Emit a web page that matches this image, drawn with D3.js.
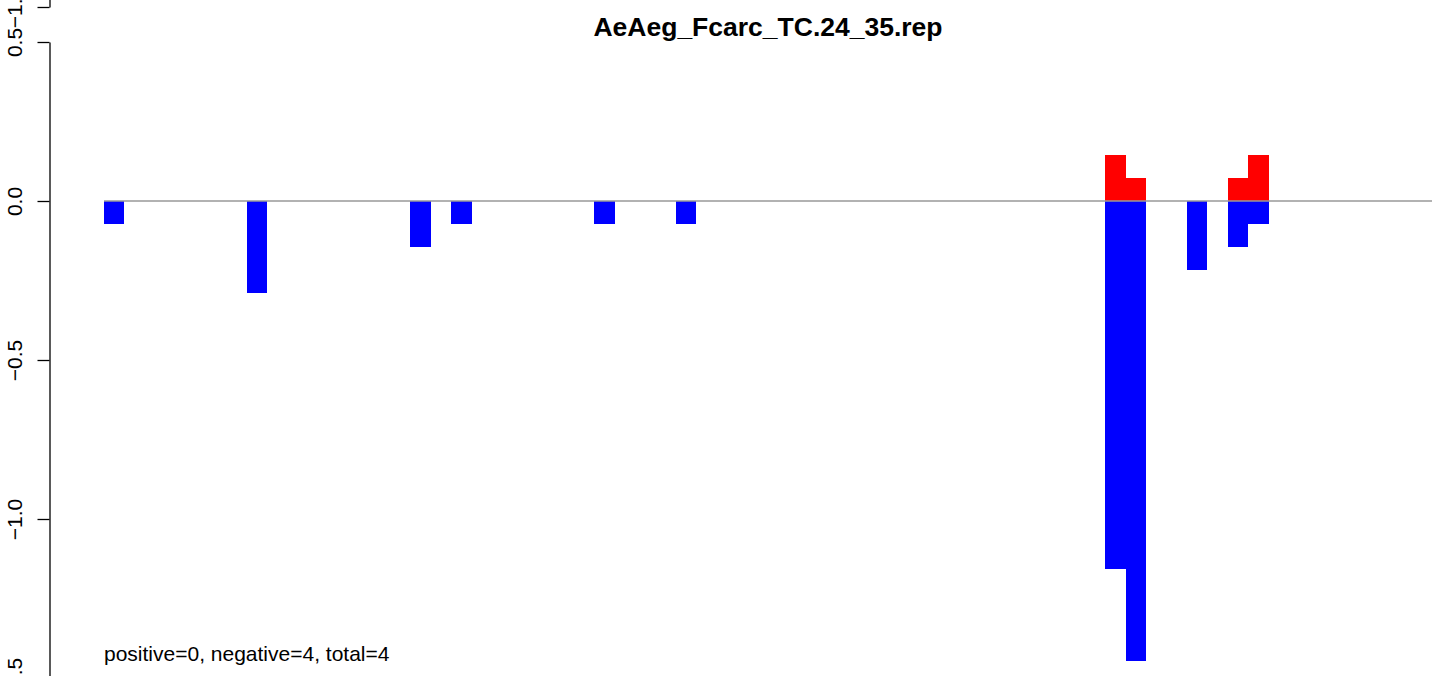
<!DOCTYPE html>
<html><head><meta charset="utf-8">
<script src="https://cdn.jsdelivr.net/npm/d3@7"></script>
<style>body{margin:0;background:#fff;} svg{display:block;} text{font-family:"Liberation Sans",Arial,sans-serif;}</style>
</head><body>
<script>
const title = "AeAeg_Fcarc_TC.24_35.rep";
const footer = "positive=0, negative=4, total=4";
const nSlots = 65;
const negSlots = [0, 7, 15, 17, 24, 28, 49, 50, 53, 55, 56];
const negValues = [-0.072, -0.289, -0.145, -0.072, -0.072, -0.072, -1.157, -1.447, -0.217, -0.145, -0.072];
const posSlots = [49, 50, 55, 56];
const posValues = [0.145, 0.072, 0.072, 0.145];
const yTicks = [0.5, 0.0, -0.5, -1.0, -1.5];

const W = 1444, H = 676;
const svg = d3.select("body").append("svg").attr("width", W).attr("height", H);

const x = d3.scaleLinear().domain([0, nSlots]).range([104, 1432]);
const y = d3.scaleLinear().domain([0.5, -1.5]).range([42, 678]);
const yPrev = d3.scaleLinear().domain([0.5, -1.5]).range([42 - 671, 7]);

const fmt = d3.format(".1f");
function styleAxis(g){
  g.select(".domain").attr("stroke", "#000").attr("stroke-width", 1.3);
  g.selectAll(".tick line").attr("stroke", "#000").attr("stroke-width", 1.3);
  g.selectAll(".tick text").attr("font-size", 21).attr("fill", "#000")
    .attr("transform", "rotate(-90)").attr("text-anchor", "middle")
    .attr("x", 0).attr("y", -34.5).attr("dy", "0.35em");
}
const axis = d3.axisLeft(y).tickValues(yTicks).tickFormat(fmt).tickSize(12).tickSizeOuter(0);
svg.append("g").attr("transform", "translate(49.5,0)").call(axis).call(styleAxis);
const axisPrev = d3.axisLeft(yPrev).tickValues([-1.5]).tickFormat(fmt).tickSize(12).tickSizeOuter(0);
svg.append("g").attr("transform", "translate(49.5,0)").call(axisPrev).call(styleAxis);

// bars
svg.append("g").selectAll("rect").data(negSlots.map((s,i)=>({s, v:negValues[i]})))
  .join("rect")
  .attr("x", d => x(d.s)).attr("width", d => x(d.s+1) - x(d.s))
  .attr("y", y(0)).attr("height", d => y(d.v) - y(0))
  .attr("fill", "#0000ff").attr("shape-rendering", "crispEdges");
svg.append("g").selectAll("rect").data(posSlots.map((s,i)=>({s, v:posValues[i]})))
  .join("rect")
  .attr("x", d => x(d.s)).attr("width", d => x(d.s+1) - x(d.s))
  .attr("y", d => y(d.v)).attr("height", d => y(0) - y(d.v))
  .attr("fill", "#ff0000").attr("shape-rendering", "crispEdges");

// zero line
svg.append("line").attr("x1", x(0)).attr("x2", x(nSlots))
  .attr("y1", y(0)).attr("y2", y(0))
  .attr("stroke", "#999").attr("stroke-width", 1.5);

svg.append("text").attr("x", 768).attr("y", 36).attr("text-anchor", "middle")
  .attr("font-size", 26.5).attr("font-weight", "bold").text(title);
svg.append("text").attr("x", 104).attr("y", 661).attr("font-size", 21).text(footer);
</script>
</body></html>
